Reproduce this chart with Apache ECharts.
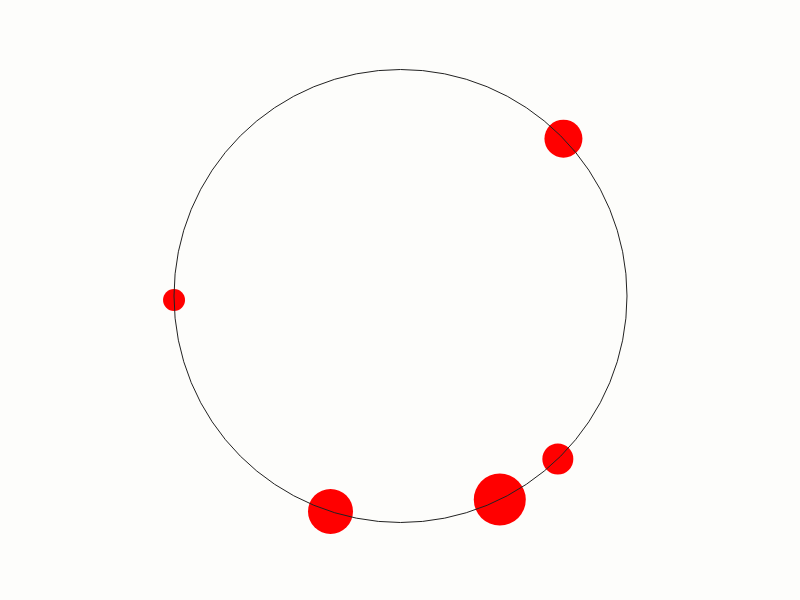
<!DOCTYPE html>
<html><head><meta charset="utf-8">
<script src="https://cdn.jsdelivr.net/npm/echarts@6/dist/echarts.min.js"></script>
<style>html,body{margin:0;padding:0;background:#fdfdfb}#c{width:800px;height:600px}</style>
</head><body><div id="c"></div>
<script>
const angles = [46, 269, 136, 154, 198];
const radii = [1, 1, 1, 1, 1];
const sizes = [38, 22, 31, 52, 45];

const chart = echarts.init(document.getElementById('c'));
chart.setOption({
  backgroundColor: '#fdfdfb',
  animation: false,
  polar: { center: [400.5, 296], radius: 226.5 },
  angleAxis: {
    type: 'value', min: 0, max: 360, startAngle: 90, clockwise: true, z: 5,
    axisLine: { show: true, lineStyle: { color: '#222', width: 1 } },
    axisTick: { show: false }, axisLabel: { show: false }, splitLine: { show: false }
  },
  radiusAxis: {
    type: 'value', min: 0, max: 1, show: false,
    axisLine: { show: false }, axisTick: { show: false }, axisLabel: { show: false }, splitLine: { show: false }
  },
  series: [{
    type: 'scatter', coordinateSystem: 'polar', z: 1,
    data: angles.map((a, i) => [radii[i], a, sizes[i]]),
    symbolSize: d => d[2],
    itemStyle: { color: '#ff0000', opacity: 1 }
  }]
});
</script></body></html>
